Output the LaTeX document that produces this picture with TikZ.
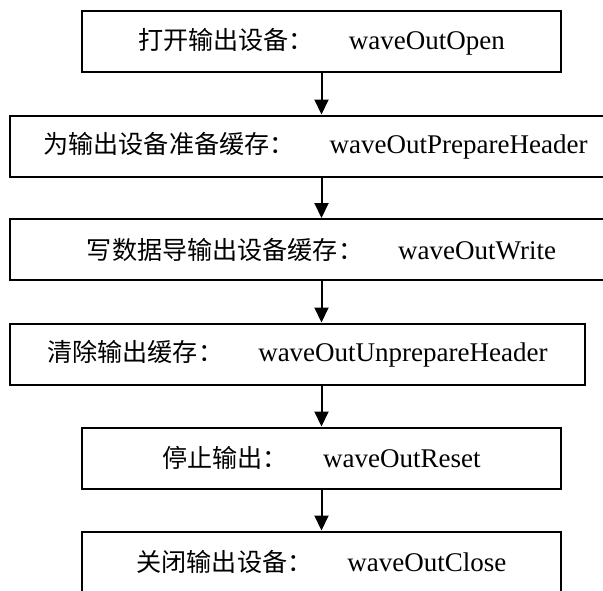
\documentclass[tikz,border=0pt]{standalone}
\usepackage{fontspec}
\setmainfont{Liberation Serif}
\newfontfamily\cjk[Scale=0.93]{Noto Sans CJK SC}
\usetikzlibrary{arrows.meta,calc,positioning}
\newcommand{\gap}{\hspace{1.3em}}
\tikzset{%
      stepbox/.style = { draw, line width=2pt, inner sep=0pt, minimum height=61pt, font=\fontsize{27}{30}\selectfont },
    shortbox/.style = { stepbox, minimum width=479pt },
      midbox/.style = { stepbox, minimum width=575pt },
     widebox/.style = { stepbox, minimum width=623pt },
        flow/.style = { line width=2pt, -{Triangle[length=15pt,width=14pt]} }
}
\begin{document}
\begin{tikzpicture}[x=1pt,y=-1pt,line join=miter]
\useasboundingbox (0,0) rectangle (603,590);
\clip (0,0) rectangle (603,590);
% boxes, top to bottom
\node[shortbox] (open)    at (321.5,41.5) {{\cjk 打开输出设备：}\gap waveOutOpen};
\node[widebox]  (prepare) at (321.5,146)  {{\cjk 为输出设备准备缓存：}\gap waveOutPrepareHeader\hspace*{12pt}};
\node[widebox]  (write)   at (321.5,249.5){{\cjk 写数据导输出设备缓存：}\gap waveOutWrite};
\node[midbox]   (unprep)  at (297.5,354)  {{\cjk 清除输出缓存：}\gap waveOutUnprepareHeader};
\node[shortbox] (reset)   at (321.5,458)  {{\cjk 停止输出：}\gap waveOutReset};
\node[shortbox] (close)   at (321.5,562)  {{\cjk 关闭输出设备：}\gap waveOutClose};
% arrows
\draw[flow] (open) -- (prepare);
\draw[flow] (prepare) -- (write);
\draw[flow] (write.south) -- (write.south |- unprep.north);
\draw[flow] (write.south |- unprep.south) -- (reset);
\draw[flow] (reset) -- (close);
\end{tikzpicture}
\end{document}
